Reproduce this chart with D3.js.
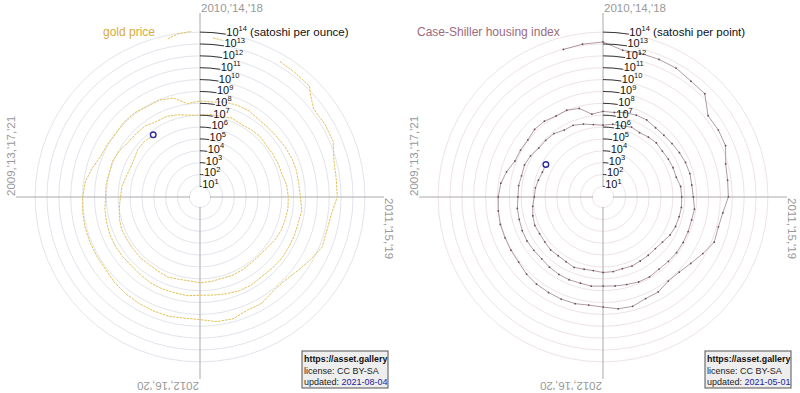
<!DOCTYPE html>
<html>
<head>
<meta charset="utf-8">
<script src="https://cdn.jsdelivr.net/npm/d3@7"></script>
<style>
body { margin: 0; background: #fff; }
svg { font-family: "Liberation Sans", Arial, sans-serif; }
</style>
</head>
<body>
<svg id="svg" width="800" height="393"></svg>
<script>
// gold price in satoshi per ounce.
// early part is sparse (null = no data), then one value per month (1st of month)
var goldEarlyDates = ["2009-11-15", "2009-12-01", "2009-12-20", "2010-01-01", "2010-01-20", "2010-02-05",
                      "2010-03-01", "2010-05-05", "2010-06-01", "2010-07-01", "2010-07-13"];
var goldEarlyValues = [5.0e13, 9.8e13, 1.2e14, null, 3.6e13, 2.7e13,
                       null, 2.3e13, 1.95e13, 1.74e13, 5.6e12];
var goldFirstMonth = "2010-08";
var goldValues = [
    1.66e12, 1.9e12, 1.86e12, 6.2e11, 4.9e11,
    4.7e11, 1.86e11, 1.45e11, 1.7e11, 6.6e10, 2.6e10, 1.38e10, 1.38e10, 2.95e10, 2.8e10, 5.5e10, 5.1e10,
    2.75e10, 2.5e10, 3.1e10, 3.0e10, 2.75e10, 2.35e10, 2.0e10, 1.35e10, 1.35e10, 1.35e10, 1.35e10, 1.2e10,
    9.8e9, 7.1e9, 3.4e9, 1.41e9, 1.2e9, 1.0e9, 1.26e9, 1.23e9, 8.5e8, 8.9e8, 5.6e8, 1.1e8,
    1.58e8, 1.51e8, 2.4e8, 2.8e8, 2.9e8, 2.0e8, 2.0e8, 2.2e8, 2.7e8, 3.2e8, 3.4e8, 3.2e8,
    3.7e8, 5.8e8, 4.7e8, 4.9e8, 5.0e8, 5.1e8, 4.5e8, 3.9e8, 5.0e8, 4.7e8, 3.6e8, 2.8e8,
    2.45e8, 3.1e8, 2.8e8, 3.0e8, 2.9e8, 2.3e8, 1.95e8, 2.15e8, 2.3e8, 2.15e8, 1.8e8, 1.55e8,
    1.15e8, 1.23e8, 1.05e8, 1.17e8, 8.7e7, 5.2e7, 4.9e7, 4.7e7, 2.8e7, 2.9e7, 1.9e7, 1.17e7,
    9.5e6, 1.32e7, 1.29e7, 1.9e7, 1.41e7, 1.7e7, 1.95e7, 1.58e7, 1.7e7, 1.82e7, 1.9e7, 3.0e7,
    3.5e7, 3.8e7, 3.4e7, 3.2e7, 2.4e7, 1.55e7, 1.32e7, 1.38e7, 1.58e7, 1.78e7, 1.62e7, 1.95e7,
    2.15e7, 1.7e7, 1.86e7, 2.4e7, 1.9e7, 1.7e7, 1.9e7, 1.74e7, 1.66e7, 1.78e7, 1.38e7, 9.1e6,
    6.5e6, 5.5e6, 3.8e6, 2.9e6, 3.2e6, 5.1e6, 5.4e6, 4.4e6
];
var goldLastDate = "2021-08-04";
var goldLastValue = 4.6e6;

// Case-Shiller index in satoshi per point, monthly
var csFirstMonth = "2009-11";
var csValues = [
    9.5e12, 1.26e13,
    1.48e13, 3.8e12, 4.2e12, 4.2e12, 3.9e12, 2.3e12, 2.1e12, 2.0e11, 2.2e11, 2.0e11, 6.5e10, 5.0e10,
    4.7e10, 1.95e10, 1.41e10, 1.66e10, 6.0e9, 2.4e9, 1.32e9, 1.2e9, 2.3e9, 2.45e9, 4.5e9, 4.1e9,
    2.4e9, 1.95e9, 2.5e9, 2.5e9, 2.35e9, 2.2e9, 1.8e9, 1.23e9, 1.17e9, 1.12e9, 1.15e9, 1.02e9,
    8.5e8, 6.2e8, 3.2e8, 1.32e8, 1.26e8, 1.15e8, 1.62e8, 1.51e8, 9.8e7, 1.07e8, 6.8e7, 1.41e7,
    2.1e7, 1.95e7, 2.9e7, 3.55e7, 3.7e7, 2.7e7, 2.6e7, 2.9e7, 3.55e7, 4.4e7, 4.9e7, 4.5e7,
    5.2e7, 7.6e7, 6.6e7, 7.1e7, 7.4e7, 7.6e7, 6.8e7, 6.3e7, 7.8e7, 7.4e7, 5.6e7, 4.7e7,
    4.1e7, 4.8e7, 4.1e7, 4.4e7, 4.1e7, 3.5e7, 2.75e7, 2.95e7, 3.2e7, 3.0e7, 2.6e7, 2.45e7,
    1.86e7, 1.9e7, 1.58e7, 1.78e7, 1.35e7, 8.1e6, 7.9e6, 7.2e6, 4.2e6, 4.5e6, 2.95e6, 1.82e6,
    1.45e6, 1.95e6, 1.95e6, 2.95e6, 2.2e6, 2.75e6, 3.2e6, 2.7e6, 2.95e6, 3.2e6, 3.2e6, 5.1e6,
    5.5e6, 5.9e6, 5.4e6, 5.1e6, 4.0e6, 2.5e6, 2.0e6, 2.1e6, 2.2e6, 2.6e6, 2.3e6, 2.8e6,
    2.95e6, 2.3e6, 2.5e6, 3.3e6, 2.45e6, 2.15e6, 2.4e6, 2.0e6, 1.9e6, 2.15e6, 1.7e6, 1.2e6,
    7.9e5, 7.1e5, 5.4e5, 4.2e5, 4.4e5
];

var yearLabels = ["2010,'14,'18", "2011,'15,'19", "2012,'16,'20", "2009,'13,'17,'21"];
var tickExponents = [1, 2, 3, 4, 5, 6, 7, 8, 9, 10, 11, 12, 13, 14];

//////////////////////////////////////////////////////////////////////////////

var svg = d3.select("#svg");
var parseMonth = d3.utcParse("%Y-%m");
var parseDay = d3.utcParse("%Y-%m-%d");

var axisLen = 184;
var holeRadius = 10;

// log radius: one decade is about 11.9px
var rScale = d3.scaleLog().domain([10, 1e14]).range([10.6, 164.9]);
// one year is a quarter turn, 2010 at the top
var angleScale = d3.scaleUtc()
        .domain([new Date(Date.UTC(2010, 0, 1)), new Date(Date.UTC(2014, 0, 1))])
        .range([0, 2 * Math.PI]);

function monthlySeries(firstMonth, values)
{
    var start = parseMonth(firstMonth);
    return values.map(function(v, i) {
        return {date: d3.utcMonth.offset(start, i), value: v};
    });
}

var goldData = goldEarlyDates.map(function(d, i) {
    return {date: parseDay(d), value: goldEarlyValues[i]};
});
goldData = goldData.concat(monthlySeries(goldFirstMonth, goldValues));
goldData.push({date: parseDay(goldLastDate), value: goldLastValue});
var csData = monthlySeries(csFirstMonth, csValues);

function px(d) { return rScale(d.value) * Math.sin(angleScale(d.date)); }
function py(d) { return -rScale(d.value) * Math.cos(angleScale(d.date)); }

function drawChart(cx, cy, cfg)
{
    var g = svg.append("g").attr("transform", "translate(" + cx + "," + cy + ")");

    // grid circles
    g.selectAll("circle.grid")
        .data(tickExponents)
        .enter().append("circle")
        .attr("class", "grid")
        .attr("r", function(k) { return rScale(Math.pow(10, k)); })
        .attr("fill", "none")
        .attr("stroke", cfg.gridColor)
        .attr("stroke-width", 1);

    // axes
    g.append("line").attr("x1", -axisLen).attr("x2", axisLen).attr("y1", 0).attr("y2", 0)
        .attr("stroke", "#aaa").attr("stroke-width", 1);
    g.append("line").attr("x1", 0).attr("x2", 0).attr("y1", -axisLen).attr("y2", axisLen - 2)
        .attr("stroke", "#aaa").attr("stroke-width", 1);

    // year labels at the ends of the axes
    g.selectAll("text.year")
        .data(yearLabels)
        .enter().append("text")
        .attr("class", "year")
        .attr("transform", function(d, i) { return "rotate(" + (i * 90) + ") translate(1," + (-axisLen - 1) + ")"; })
        .attr("font-size", 11.5)
        .attr("fill", "#999")
        .text(function(d) { return d; });

    // the data
    var line = d3.lineRadial()
        .defined(function(d) { return d.value !== null; })
        .angle(function(d) { return angleScale(d.date); })
        .radius(function(d) { return rScale(d.value); });

    g.append("path")
        .datum(cfg.data)
        .attr("d", line)
        .attr("fill", "none")
        .attr("stroke", cfg.lineColor)
        .attr("stroke-width", cfg.lineWidth)
        .attr("stroke-dasharray", cfg.dash);

    if (cfg.dots) {
        g.selectAll("circle.dot")
            .data(cfg.data)
            .enter().append("circle")
            .attr("class", "dot")
            .attr("cx", px)
            .attr("cy", py)
            .attr("r", 0.9)
            .attr("fill", cfg.dotColor);
    }

    // hole in the middle
    g.append("circle").attr("r", holeRadius).attr("fill", "#fff");

    // tick arcs with their labels
    var tickAngle = 9 * Math.PI / 180;
    tickExponents.forEach(function(k) {
        var rr = rScale(Math.pow(10, k));
        var p = d3.path();
        p.arc(0, 0, rr, -Math.PI / 2, -Math.PI / 2 + tickAngle);
        g.append("path").attr("d", p.toString())
            .attr("fill", "none").attr("stroke", "#222").attr("stroke-width", 0.9);
        var t = g.append("text")
            .attr("x", rr * Math.sin(tickAngle) + 0.5)
            .attr("y", -rr * Math.cos(tickAngle) + 1.5)
            .attr("font-size", 11)
            .attr("fill", "#111")
            .text("10");
        t.append("tspan").attr("dy", -4.5).attr("font-size", 7.5).text(k);
        if (k === 14) {
            t.append("tspan").attr("dy", 4.5).attr("font-size", 11.5).text(" " + cfg.unit);
        }
    });

    // last point
    var last = cfg.data[cfg.data.length - 1];
    g.append("circle")
        .attr("cx", px(last)).attr("cy", py(last))
        .attr("r", 2.8)
        .attr("fill", "#fff")
        .attr("stroke", "#2b2b9c")
        .attr("stroke-width", 1.4);

    // series name
    g.append("text")
        .attr("x", cfg.nameX).attr("y", -161)
        .attr("font-size", 12)
        .attr("fill", cfg.nameColor)
        .text(cfg.name);

    // license box
    var box = g.append("g").attr("transform", "translate(102,154)");
    box.append("rect").attr("width", 86).attr("height", 37)
        .attr("fill", "#eee").attr("stroke", "#555").attr("stroke-width", 1);
    box.append("text").attr("x", 2).attr("y", 11).attr("font-size", 8.9)
        .attr("font-weight", "bold").attr("fill", "#111").text("https://asset.gallery");
    box.append("text").attr("x", 2).attr("y", 22.5).attr("font-size", 9)
        .attr("fill", "#222").text("license: CC BY-SA");
    var up = box.append("text").attr("x", 2).attr("y", 33.5).attr("font-size", 9)
        .attr("fill", "#222").text("updated: ");
    up.append("tspan").attr("fill", "#23239a").text(cfg.updated);
}

drawChart(200, 197, {
    data: goldData,
    unit: "(satoshi per ounce)",
    name: "gold price",
    nameX: -97,
    nameColor: "#d8ab3c",
    lineColor: "#e2c159",
    lineWidth: 1,
    dash: "2.5,1",
    dots: false,
    gridColor: "#e2e4ec",
    updated: "2021-08-04"
});

drawChart(603, 197, {
    data: csData,
    unit: "(satoshi per point)",
    name: "Case-Shiller housing index",
    nameX: -186,
    nameColor: "#9b6b80",
    lineColor: "#a8909b",
    lineWidth: 0.9,
    dash: null,
    dots: true,
    dotColor: "#6e4a5a",
    gridColor: "#efe3e8",
    updated: "2021-05-01"
});
</script>
</body>
</html>
